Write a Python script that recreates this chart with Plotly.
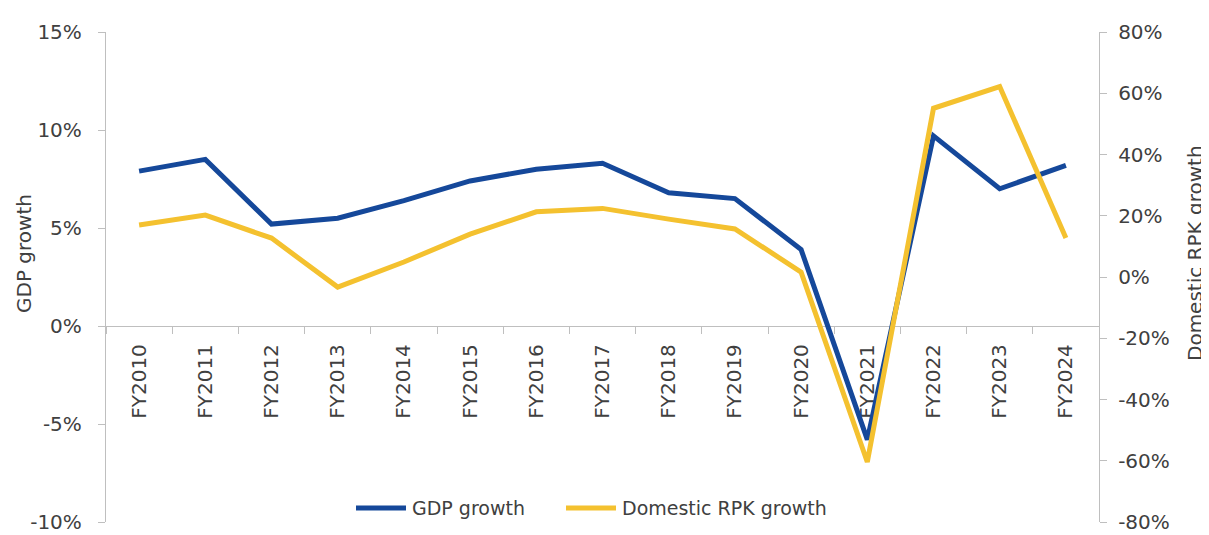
import plotly.graph_objects as go

years = ["FY2010", "FY2011", "FY2012", "FY2013", "FY2014", "FY2015", "FY2016",
         "FY2017", "FY2018", "FY2019", "FY2020", "FY2021", "FY2022", "FY2023", "FY2024"]
gdp_growth = [7.9, 8.5, 5.2, 5.5, 6.4, 7.4, 8.0, 8.3, 6.8, 6.5, 3.9, -5.8, 9.7, 7.0, 8.2]
rpk_growth = [17.0, 20.2, 12.7, -3.3, 4.9, 14.0, 21.3, 22.4, 18.9, 15.7, 1.6, -60.4, 55.1, 62.2, 12.7]

left_ticks = [-10, -5, 0, 5, 10, 15]
left_labels = ["-10%", "-5%", "0%", "5%", "10%", "15%"]
right_ticks = [-80, -60, -40, -20, 0, 20, 40, 60, 80]
right_labels = ["-80%", "-60%", "-40%", "-20%", "0%", "20%", "40%", "60%", "80%"]

BLUE = "#15489A"
YELLOW = "#F4C12F"
AXIS = "#BFBFBF"
TEXT = "#404040"
FONT = "DejaVu Sans"

# page body has an 8px margin; build the figure so the page coordinates match
OFF = 8
W, H = 1209 - OFF, 535 - OFF
L, R, T, B = 106 - OFF, 110, 32 - OFF, 13
pw = W - L - R
ph = H - T - B

def px_x(x):
    # x given in page pixels
    return (x - OFF - L) / pw

def px_y(y):
    # y given in page pixels
    return (H - B - (y - OFF)) / ph

fig = go.Figure()
fig.add_trace(go.Scatter(x=years, y=gdp_growth, mode="lines", name="GDP growth",
                         line=dict(color=BLUE, width=5), yaxis="y", showlegend=False))
fig.add_trace(go.Scatter(x=years, y=rpk_growth, mode="lines", name="Domestic RPK growth",
                         line=dict(color=YELLOW, width=5), yaxis="y2", showlegend=False))

tickfont = dict(family=FONT, size=20, color=TEXT)

fig.update_layout(
    width=W, height=H,
    margin=dict(l=L, r=R, t=T, b=B, autoexpand=False),
    paper_bgcolor="white", plot_bgcolor="white",
    showlegend=False,
    xaxis=dict(type="category", range=[-0.5, 14.5], anchor="free",
               position=(0 - left_ticks[0]) / (left_ticks[-1] - left_ticks[0]),
               showline=True, linecolor=AXIS, linewidth=1.3,
               ticks="outside", tickson="boundaries", ticklen=7, tickcolor=AXIS, tickwidth=1.3,
               tickangle=-90, tickfont=tickfont, showgrid=False, zeroline=False,
               layer="below traces", ticklabelstandoff=9, automargin=False),
    yaxis=dict(range=[-10, 15], tickvals=left_ticks, ticktext=left_labels,
               showline=True, linecolor=AXIS, linewidth=1.3,
               ticks="outside", ticklen=7, tickcolor=AXIS, tickwidth=1.3,
               tickfont=tickfont, showgrid=False, zeroline=False, layer="below traces",
               ticklabelstandoff=12, ticklabeloverflow="allow", automargin=False),
    yaxis2=dict(range=[-80, 80], tickvals=right_ticks, ticktext=right_labels,
                overlaying="y", side="right",
                showline=True, linecolor=AXIS, linewidth=1.3,
                ticks="outside", ticklen=7, tickcolor=AXIS, tickwidth=1.3,
                tickfont=tickfont, showgrid=False, zeroline=False, layer="below traces",
                ticklabelstandoff=7, ticklabeloverflow="allow", automargin=False),
)

# axis titles
fig.add_annotation(text="GDP growth", x=px_x(24), y=px_y(254), xref="paper", yref="paper",
                   textangle=-90, showarrow=False, xanchor="center", yanchor="middle",
                   font=dict(family=FONT, size=20, color=TEXT))
fig.add_annotation(text="Domestic RPK growth", x=px_x(1195), y=px_y(253), xref="paper", yref="paper",
                   textangle=-90, showarrow=False, xanchor="center", yanchor="middle",
                   font=dict(family=FONT, size=20, color=TEXT))

# legend (drawn manually to match the long line keys)
legend_items = [("GDP growth", BLUE, 356), ("Domestic RPK growth", YELLOW, 566)]
ly = px_y(508)
for label, color, x0 in legend_items:
    fig.add_shape(type="line", xref="paper", yref="paper",
                  x0=px_x(x0), x1=px_x(x0 + 50), y0=ly, y1=ly,
                  line=dict(color=color, width=5))
    fig.add_annotation(text=label, x=px_x(x0 + 54), y=ly, xref="paper", yref="paper",
                       showarrow=False, xanchor="left", yanchor="middle",
                       font=dict(family=FONT, size=19, color=TEXT))

fig.write_html("out.html")
